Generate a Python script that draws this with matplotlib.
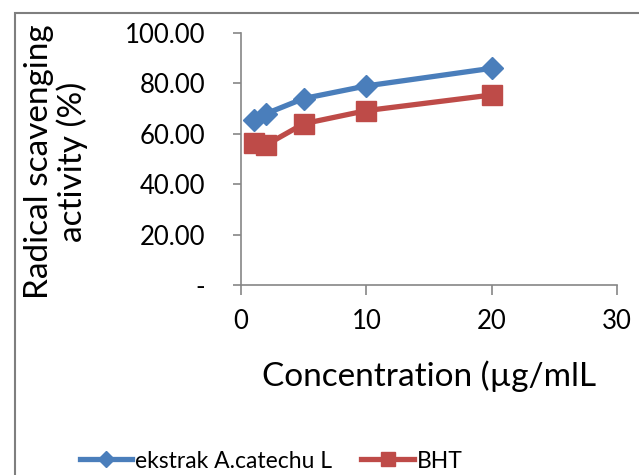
import matplotlib.pyplot as plt
import numpy as np
from matplotlib.patches import Rectangle

plt.rcParams['font.family'] = ['Lato', 'DejaVu Sans']

conc = [1, 2, 5, 10, 20]
ekstrak = [65.5, 68.0, 74.0, 79.0, 86.0]
bht = [56.5, 55.6, 64.0, 69.2, 75.4]

x_ticks = [0, 10, 20, 30]
y_ticks = [0, 20, 40, 60, 80, 100]
y_ticklabels = ['-', '20.00', '40.00', '60.00', '80.00', '100.00']

blue = '#4A7EBB'
red = '#BE4B48'
grey = '#868686'

fig = plt.figure(figsize=(6.39, 4.75), dpi=100)

# outer chart border (only top/left visible, rest cropped)
fig.patches.append(Rectangle((15/639, -0.1), 1.2, 0.1 + 1 - 13/475,
                             transform=fig.transFigure, fill=False,
                             edgecolor='#7f7f7f', linewidth=1.5))

ax = fig.add_axes([241/639, 1 - 285/475, 376/639, 252/475])

ax.plot(conc, ekstrak, color=blue, lw=3.8, marker='D', markersize=11,
        markeredgecolor=blue, label='ekstrak A.catechu L', clip_on=False)
ax.plot(conc, bht, color=red, lw=3.8, marker='s', markersize=14,
        markeredgecolor=red, label='BHT', clip_on=False)

ax.set_xlim(0, 30)
ax.set_ylim(0, 100)
ax.set_xticks(x_ticks)
ax.set_yticks(y_ticks)
ax.set_yticklabels(y_ticklabels)

for s in ['top', 'right']:
    ax.spines[s].set_visible(False)
for s in ['left', 'bottom']:
    ax.spines[s].set_color(grey)
    ax.spines[s].set_linewidth(1.2)

ax.tick_params(axis='y', direction='out', length=6, width=1.2, color=grey,
               labelsize=18.5, pad=20)
ax.tick_params(axis='x', direction='out', length=7, width=1.2, color=grey,
               labelsize=18.5, pad=10)

ax.set_xlabel('Concentration (µg/mlL', fontsize=24, labelpad=19)
fig.text(56/639, 1 - 162/475, 'Radical scavenging\nactivity (%)',
         rotation=90, ha='center', va='center', fontsize=24,
         multialignment='center', linespacing=1.1)

fig.legend(loc='center', bbox_to_anchor=(271/639, 1 - 461/475), ncol=2,
           frameon=False, fontsize=16.5, handlelength=2.3, columnspacing=1.3,
           handletextpad=0.1, markerscale=0.75)

plt.savefig('out.png', dpi=100)
